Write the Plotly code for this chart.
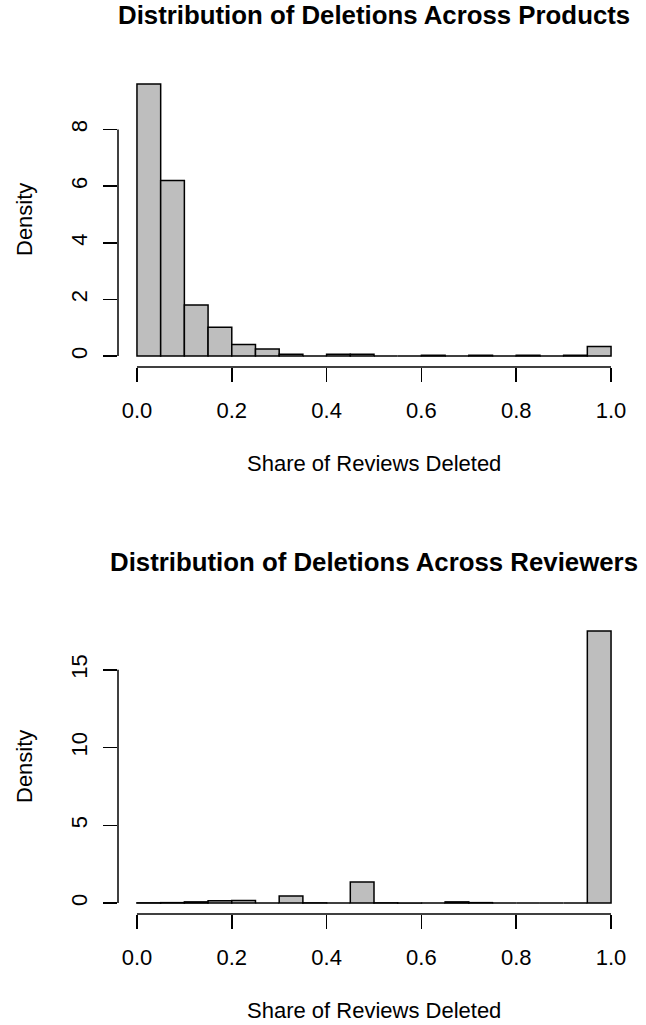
import plotly.graph_objects as go

# Data: histogram densities (bin width 0.05, 20 bins from 0 to 1)
bin_edges = [i * 0.05 for i in range(21)]
products_density = [9.61, 6.20, 1.80, 1.02, 0.41, 0.25, 0.07, 0.0, 0.07, 0.07,
                    0.0, 0.0, 0.03, 0.0, 0.03, 0.0, 0.03, 0.0, 0.03, 0.34]
reviewers_density = [0.02, 0.03, 0.08, 0.15, 0.17, 0.0, 0.45, 0.02, 0.0, 1.35,
                     0.02, 0.01, 0.0, 0.08, 0.03, 0.0, 0.0, 0.0, 0.0, 17.5]
x_ticks = [0.0, 0.2, 0.4, 0.6, 0.8, 1.0]
x_tick_labels = ["0.0", "0.2", "0.4", "0.6", "0.8", "1.0"]
top_y_ticks = [0, 2, 4, 6, 8]
bottom_y_ticks = [0, 5, 10, 15]
titles = ["Distribution of Deletions Across Products",
          "Distribution of Deletions Across Reviewers"]
x_label = "Share of Reviews Deleted"
y_label = "Density"

W, H = 646, 1025
FONT = "Liberation Sans, Arial, Helvetica, sans-serif"
TICK_SIZE = 22
TITLE_SIZE = 25.8
BAR_FILL = "#BEBEBE"

centers = [(bin_edges[i] + bin_edges[i + 1]) / 2 for i in range(20)]
width = bin_edges[1] - bin_edges[0]

# plot regions in pixels (left, right, top, bottom)
left_px, right_px = 118, 630
regions = [(73, 367), (620, 914)]

fig = go.Figure()
series = [products_density, reviewers_density]
yticks = [top_y_ticks, bottom_y_ticks]

for k in range(2):
    xa = "x" if k == 0 else "x2"
    ya = "y" if k == 0 else "y2"
    fig.add_trace(go.Bar(
        x=centers, y=series[k], width=width,
        marker=dict(color=BAR_FILL, line=dict(color="black", width=1.5)),
        xaxis=xa, yaxis=ya, showlegend=False, hoverinfo="skip"))

    top, bot = regions[k]
    ymax = max(series[k])
    xkey = "xaxis" if k == 0 else "xaxis2"
    ykey = "yaxis" if k == 0 else "yaxis2"
    fig.layout[xkey] = dict(
        domain=[left_px / W, right_px / W], range=[-0.04, 1.04],
        anchor=ya, showgrid=False, zeroline=False, showline=False,
        tickmode="array", tickvals=x_ticks, ticktext=x_tick_labels,
        ticks="outside", ticklen=14, tickwidth=1.5, tickcolor="black",
        ticklabelstandoff=10,
        tickfont=dict(family=FONT, size=TICK_SIZE, color="black"))
    fig.layout[ykey] = dict(
        domain=[1 - bot / H, 1 - top / H], range=[-0.04 * ymax, 1.04 * ymax],
        anchor=xa, showgrid=False, zeroline=False, showline=False,
        tickmode="array", tickvals=yticks[k], ticktext=[str(v) for v in yticks[k]],
        ticks="outside", ticklen=14, tickwidth=1.5, tickcolor="black",
        tickangle=-90, ticklabelstandoff=7,
        tickfont=dict(family=FONT, size=TICK_SIZE, color="black"))

    xd = ("x" if k == 0 else "x2")
    yd = ("y" if k == 0 else "y2")
    # axis lines spanning first to last tick (R style)
    fig.add_shape(type="line", xref=xd, yref=yd + " domain",
                  x0=x_ticks[0], x1=x_ticks[-1], y0=0, y1=0,
                  line=dict(color="black", width=1.5))
    fig.add_shape(type="line", xref=xd + " domain", yref=yd,
                  x0=0, x1=0, y0=yticks[k][0], y1=yticks[k][-1],
                  line=dict(color="black", width=1.5))

    fig.add_annotation(text="<b>" + titles[k] + "</b>", xref=xd + " domain",
                       yref=yd + " domain", x=0.5, y=1, yshift=58,
                       showarrow=False, xanchor="center", yanchor="middle",
                       font=dict(family=FONT, size=TITLE_SIZE, color="black"))
    fig.add_annotation(text=x_label, xref=xd + " domain", yref=yd + " domain",
                       x=0.5, y=0, yshift=-96, showarrow=False,
                       xanchor="center", yanchor="middle",
                       font=dict(family=FONT, size=TICK_SIZE, color="black"))
    fig.add_annotation(text=y_label, xref=xd + " domain", yref=yd + " domain",
                       x=0, y=0.5, xshift=-94, textangle=-90, showarrow=False,
                       xanchor="center", yanchor="middle",
                       font=dict(family=FONT, size=TICK_SIZE, color="black"))

fig.update_layout(width=W, height=H, margin=dict(l=0, r=0, t=0, b=0),
                  paper_bgcolor="white", plot_bgcolor="white", bargap=0)

fig.write_html("out.html",
               config={"displayModeBar": False, "staticPlot": True},
               post_script="document.body.style.margin='0';"
                           "document.body.style.overflow='hidden';")
